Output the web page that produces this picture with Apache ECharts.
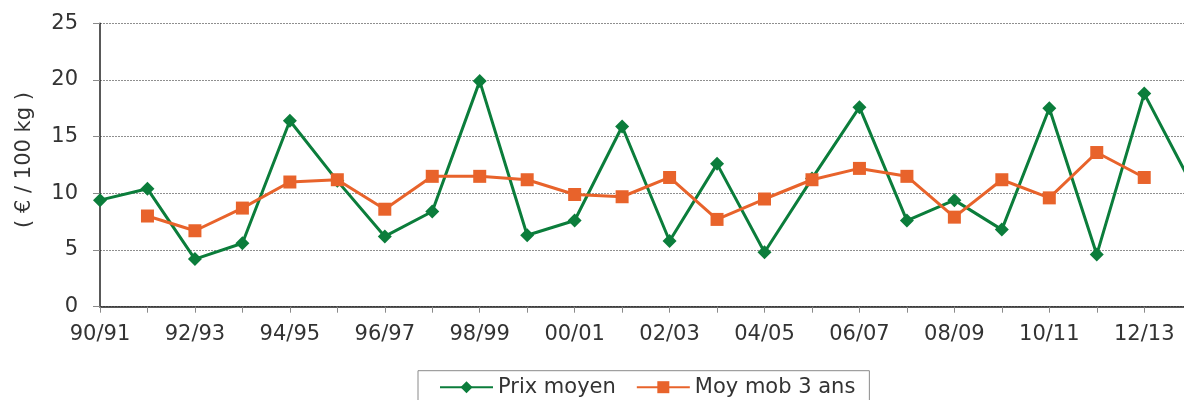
<!DOCTYPE html>
<html>
<head>
<meta charset="utf-8">
<script src="https://cdn.jsdelivr.net/npm/echarts@6/dist/echarts.min.js"></script>
<style>
html,body{margin:0;padding:0;background:#fff;overflow:hidden;}
#chart{width:1192px;height:400px;}
</style>
</head>
<body>
<div id="chart"></div>
<script>
const categories = ['90/91','91/92','92/93','93/94','94/95','95/96','96/97','97/98','98/99','99/00','00/01','01/02','02/03','03/04','04/05','05/06','06/07','07/08','08/09','09/10','10/11','11/12','12/13','13/14'];
const prixMoyen = [9.4,10.4,4.2,5.6,16.4,11.1,6.2,8.4,19.9,6.3,7.6,15.9,5.8,12.6,4.8,11.3,17.6,7.6,9.4,6.8,17.5,4.6,18.8,10.8];
const moyMob3 = [null,8.0,6.7,8.7,11.0,11.2,8.6,11.5,11.5,11.2,9.9,9.7,11.4,7.7,9.5,11.2,12.2,11.5,7.9,11.2,9.6,13.6,11.4,null];
const yTicks = {min:0, max:25, interval:5};

const FONT = '"DejaVu Sans", Verdana, sans-serif';
const TXT = '#333333';
const chart = echarts.init(document.getElementById('chart'), null, {renderer:'canvas'});
chart.setOption({
  animation:false,
  backgroundColor:'#ffffff',
  grid:{left:100, top:23.3, bottom:93.3, right:0.3, containLabel:false},
  legend:{
    left:418, top:370.7,
    padding:[6,14,6,21],
    borderColor:'#8a8a8a', borderWidth:1,
    itemWidth:53, itemHeight:15, itemGap:20,
    textStyle:{fontFamily:FONT, fontSize:21, color:TXT},
    data:['Prix moyen','Moy mob 3 ans']
  },
  xAxis:{
    type:'category', data:categories, boundaryGap:false,
    axisLine:{lineStyle:{color:'#222', width:1.5}},
    axisTick:{interval:0, length:6, lineStyle:{color:'#8a8a8a', width:1}},
    axisLabel:{interval:1, margin:17, fontFamily:FONT, fontSize:21, color:TXT},
    splitLine:{show:false}
  },
  yAxis:{
    type:'value', min:yTicks.min, max:yTicks.max, interval:yTicks.interval,
    axisLine:{show:true, lineStyle:{color:'#222', width:1.5}},
    axisTick:{show:true, length:7, lineStyle:{color:'#8a8a8a', width:1}},
    axisLabel:{margin:22, fontFamily:FONT, fontSize:21, color:TXT},
    splitLine:{show:true, lineStyle:{color:'#8f8f8f', width:1, type:[2,1]}}
  },
  graphic:[{
    type:'text', x:25, y:160, rotation:Math.PI/2,
    style:{text:'( € / 100 kg )', fontFamily:FONT, fontSize:21, fill:TXT, align:'center', verticalAlign:'middle'}
  }],
  series:[
    {name:'Prix moyen', type:'line', data:prixMoyen, symbol:'diamond', symbolSize:14,
     lineStyle:{color:'#0b7d3b', width:3}, itemStyle:{color:'#0b7d3b'}, z:2},
    {name:'Moy mob 3 ans', type:'line', data:moyMob3, symbol:'rect', symbolSize:13,
     connectNulls:false,
     lineStyle:{color:'#e8632b', width:3}, itemStyle:{color:'#e8632b'}, z:3}
  ]
});
</script>
</body>
</html>
